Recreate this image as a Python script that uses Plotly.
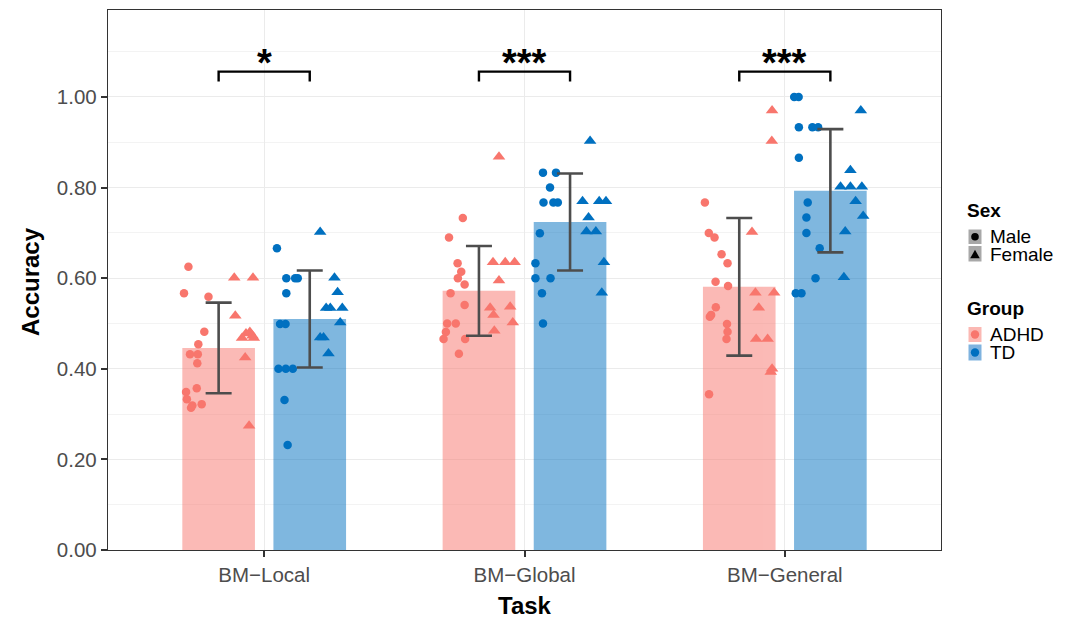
import plotly.graph_objects as go

# ---------------- data ----------------
tasks = ["BM\u2212Local", "BM\u2212Global", "BM\u2212General"]
groups = ["ADHD", "TD"]

adhd_mean = [0.446, 0.572, 0.581]
adhd_sd = [0.100, 0.099, 0.152]
td_mean = [0.510, 0.724, 0.793]
td_sd = [0.107, 0.107, 0.136]

# individual participants: task index (1..3), horizontal jitter, accuracy
adhd_male_task = [1]*14 + [2]*14 + [3]*14
adhd_male_jit = [-0.291, -0.308, -0.214, -0.230, -0.253, -0.285, -0.255, -0.257, -0.259, -0.300, -0.297, -0.276, -0.281, -0.240,
                 -0.237, -0.290, -0.257, -0.243, -0.256, -0.230, -0.284, -0.230, -0.297, -0.264, -0.302, -0.311, -0.228, -0.252,
                 -0.307, -0.292, -0.270, -0.243, -0.220, -0.266, -0.218, -0.265, -0.283, -0.288, -0.222, -0.220, -0.224, -0.291]
adhd_male_acc = [0.625, 0.567, 0.559, 0.482, 0.454, 0.432, 0.432, 0.412, 0.357, 0.349, 0.333, 0.319, 0.314, 0.322,
                 0.733, 0.690, 0.633, 0.614, 0.600, 0.586, 0.567, 0.541, 0.500, 0.500, 0.481, 0.466, 0.466, 0.433,
                 0.767, 0.700, 0.690, 0.653, 0.633, 0.592, 0.583, 0.536, 0.519, 0.515, 0.499, 0.482, 0.466, 0.344]

adhd_female_task = [1]*10 + [2]*10 + [3]*10
adhd_female_jit = [-0.115, -0.043, -0.111, -0.085, -0.070, -0.055, -0.045, -0.040, -0.073, -0.058,
                   -0.098, -0.121, -0.074, -0.038, -0.098, -0.132, -0.055, -0.119, -0.045, -0.116,
                   -0.049, -0.050, -0.126, -0.113, -0.041, -0.100, -0.110, -0.066, -0.049, -0.054]
adhd_female_acc = [0.601, 0.601, 0.517, 0.468, 0.478, 0.481, 0.473, 0.468, 0.425, 0.274,
                   0.868, 0.635, 0.635, 0.635, 0.595, 0.535, 0.537, 0.519, 0.502, 0.484,
                   0.970, 0.903, 0.702, 0.568, 0.568, 0.535, 0.466, 0.466, 0.400, 0.393]

td_male_task = [1]*12 + [2]*12 + [3]*13
td_male_jit = [0.049, 0.085, 0.119, 0.129, 0.085, 0.061, 0.082, 0.055, 0.083, 0.110, 0.078, 0.090,
               0.071, 0.121, 0.098, 0.073, 0.111, 0.128, 0.059, 0.042, 0.042, 0.100, 0.067, 0.071,
               0.036, 0.053, 0.054, 0.106, 0.128, 0.054, 0.088, 0.083, 0.083, 0.134, 0.118, 0.042, 0.064]
td_male_acc = [0.666, 0.600, 0.600, 0.600, 0.567, 0.499, 0.499, 0.400, 0.400, 0.400, 0.331, 0.232,
               0.833, 0.833, 0.800, 0.767, 0.767, 0.767, 0.699, 0.633, 0.600, 0.600, 0.567, 0.500,
               1.000, 1.000, 0.933, 0.933, 0.933, 0.866, 0.767, 0.734, 0.700, 0.666, 0.600, 0.567, 0.567]

td_female_task = [1]*10 + [2]*9 + [3]*9
td_female_jit = [0.215, 0.270, 0.282, 0.238, 0.254, 0.300, 0.292, 0.215, 0.228, 0.247,
                 0.252, 0.223, 0.287, 0.313, 0.246, 0.238, 0.274, 0.305, 0.297,
                 0.292, 0.252, 0.214, 0.252, 0.296, 0.272, 0.301, 0.232, 0.227]
td_female_acc = [0.702, 0.601, 0.569, 0.534, 0.534, 0.534, 0.502, 0.469, 0.469, 0.434,
                 0.903, 0.770, 0.770, 0.770, 0.734, 0.703, 0.703, 0.635, 0.568,
                 0.970, 0.838, 0.802, 0.802, 0.802, 0.770, 0.737, 0.703, 0.602]

significance = ["*", "***", "***"]

# ---------------- styling ----------------
FONT = "Liberation Sans"
C_ADHD = "#F8766D"
C_TD = "#0070C0"
DODGE = 0.175
BAR_W = 0.279
task_idx = [1, 2, 3]

fig = go.Figure()

fig.add_trace(go.Bar(x=[t - DODGE for t in task_idx], y=adhd_mean, width=BAR_W,
                     marker=dict(color=C_ADHD, line=dict(width=0)), opacity=0.5,
                     name="ADHD", showlegend=False))
fig.add_trace(go.Bar(x=[t + DODGE for t in task_idx], y=td_mean, width=BAR_W,
                     marker=dict(color=C_TD, line=dict(width=0)), opacity=0.5,
                     name="TD", showlegend=False))


def pts(task, jit, acc, color, symbol, size, name):
    return go.Scatter(x=[t + j for t, j in zip(task, jit)], y=acc, mode="markers",
                      marker=dict(color=color, symbol=symbol, size=size, line=dict(width=0)),
                      name=name, showlegend=False)


fig.add_trace(pts(adhd_male_task, adhd_male_jit, adhd_male_acc, C_ADHD, "circle", 8.5, "ADHD Male"))
fig.add_trace(pts(adhd_female_task, adhd_female_jit, adhd_female_acc, C_ADHD, "triangle-up", 11, "ADHD Female"))
fig.add_trace(pts(td_male_task, td_male_jit, td_male_acc, C_TD, "circle", 8.5, "TD Male"))
fig.add_trace(pts(td_female_task, td_female_jit, td_female_acc, C_TD, "triangle-up", 11, "TD Female"))

# error bars (drawn on top)
for offs, m, s in [(-DODGE, adhd_mean, adhd_sd), (DODGE, td_mean, td_sd)]:
    fig.add_trace(go.Scatter(x=[t + offs for t in task_idx], y=m, mode="markers",
                             marker=dict(opacity=0, size=1),
                             error_y=dict(type="data", array=s, visible=True, color="#4D4D4D",
                                          thickness=2.6, width=13),
                             showlegend=False, hoverinfo="skip"))

shapes = []
annotations = []

# significance brackets
BR_TOP = 1.056
BR_LEG = 1.034
for t, sig in zip(task_idx, significance):
    shapes.append(dict(type="path", xref="x", yref="y",
                       path=f"M {t - DODGE},{BR_LEG} L {t - DODGE},{BR_TOP} L {t + DODGE},{BR_TOP} L {t + DODGE},{BR_LEG}",
                       line=dict(color="black", width=2.4)))
    annotations.append(dict(x=t, y=1.076, xref="x", yref="y", text=f"<b>{sig}</b>", showarrow=False,
                            font=dict(family=FONT, size=38, color="black"), yanchor="middle"))

# ---- manual legend in pixel positions ----
L, R, T, B = 108, 941, 10, 550


def px(x):
    return (x - L) / (R - L)


def py(y):
    return (B - y) / (B - T)


def key(y0, y1, fill):
    shapes.append(dict(type="rect", xref="paper", yref="paper", x0=px(968.5), x1=px(981.5),
                       y0=py(y1), y1=py(y0), fillcolor=fill, line=dict(width=0), layer="above"))


def dot(cx, cy, r, color):
    shapes.append(dict(type="circle", xref="paper", yref="paper", x0=px(cx - r), x1=px(cx + r),
                       y0=py(cy + r), y1=py(cy - r), fillcolor=color, line=dict(width=0), layer="above"))


def text(x, y, s, bold=False):
    annotations.append(dict(x=px(x), y=py(y), xref="paper", yref="paper",
                            text=f"<b>{s}</b>" if bold else s, showarrow=False, xanchor="left",
                            yanchor="middle", borderpad=0,
                            font=dict(family=FONT, size=19, color="black")))


text(966, 210, "Sex", bold=True)
key(229.5, 244, "#A8A8A8")
dot(975, 236.7, 3.8, "black")
key(246, 261.5, "#A8A8A8")
shapes.append(dict(type="path", xref="paper", yref="paper",
                   path=f"M {px(970.2)},{py(258.3)} L {px(979.8)},{py(258.3)} L {px(975)},{py(249.8)} Z",
                   fillcolor="black", line=dict(width=0), layer="above"))
text(988.5, 236.7, "Male")
text(988.5, 254.3, "Female")

text(966, 308.3, "Group", bold=True)
key(327, 342, "#FBB8B3")
dot(975, 334.5, 4.2, C_ADHD)
key(344.5, 360.5, "#7FB3DF")
dot(975, 352.5, 4.2, C_TD)
text(988.5, 334.3, "ADHD")
text(988.5, 352.3, "TD")

# axis titles
annotations.append(dict(x=px(30), y=py(282), xref="paper", yref="paper", text="<b>Accuracy</b>",
                        textangle=-90, showarrow=False, xanchor="center", yanchor="middle",
                        font=dict(family=FONT, size=24, color="black")))
annotations.append(dict(x=px(525), y=py(605), xref="paper", yref="paper", text="<b>Task</b>",
                        showarrow=False, xanchor="center", yanchor="middle",
                        font=dict(family=FONT, size=24, color="black")))

fig.update_layout(
    width=1070, height=618,
    margin=dict(l=L, r=1070 - R, t=T, b=618 - B),
    paper_bgcolor="white", plot_bgcolor="white",
    barmode="overlay", showlegend=False,
    shapes=shapes, annotations=annotations,
    font=dict(family=FONT),
    xaxis=dict(range=[0.4, 3.6], tickvals=task_idx, ticktext=tasks,
               showgrid=True, gridcolor="#EBEBEB", gridwidth=1.2, zeroline=False,
               showline=True, linecolor="#333333", linewidth=1.3, mirror=True,
               ticks="outside", ticklen=6, tickwidth=1.5, tickcolor="#333333",
               tickfont=dict(family=FONT, size=20.5, color="#4D4D4D")),
    yaxis=dict(range=[0, 1.192], tickvals=[0, 0.2, 0.4, 0.6, 0.8, 1.0], tickformat=".2f",
               showgrid=True, gridcolor="#EBEBEB", gridwidth=1.2, zeroline=False,
               minor=dict(tickvals=[0.1, 0.3, 0.5, 0.7, 0.9, 1.1], showgrid=True, gridcolor="#F3F3F3", gridwidth=0.8),
               showline=True, linecolor="#333333", linewidth=1.3, mirror=True,
               ticks="outside", ticklen=6, tickwidth=1.5, tickcolor="#333333",
               tickfont=dict(family=FONT, size=20.5, color="#4D4D4D")),
)

fig.write_html("out.html", config={"displayModeBar": False},
               post_script="document.body.style.margin='0px';")
